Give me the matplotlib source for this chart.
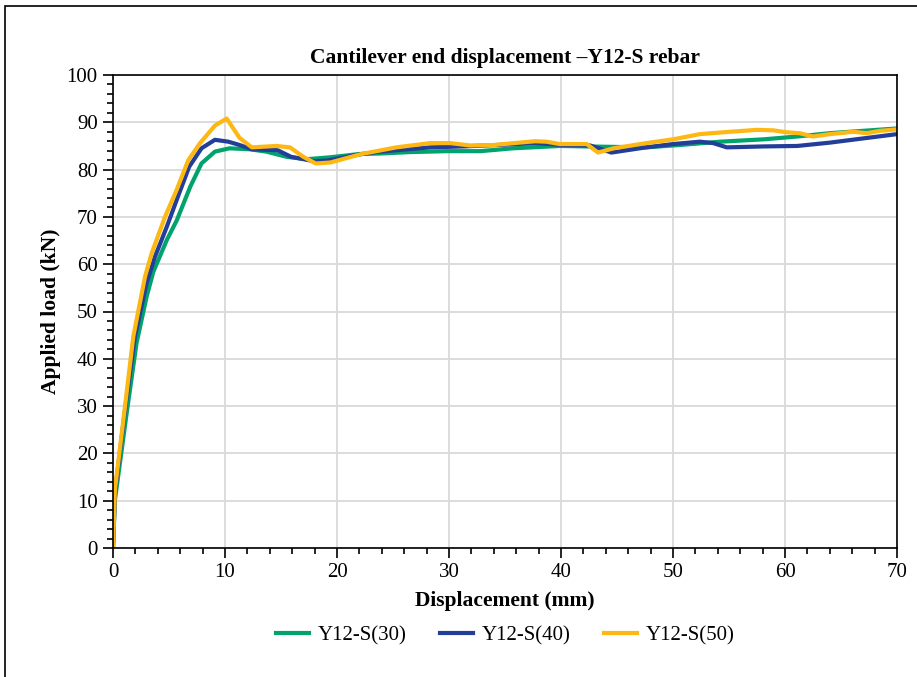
import matplotlib
matplotlib.use("Agg")
import matplotlib.pyplot as plt
from matplotlib.ticker import MultipleLocator
from matplotlib.patches import Rectangle

# Y12-S(30)
d30 = [0, 0.17, 1.22, 2.1, 3.0, 3.6, 4.8, 5.7, 6.9, 7.9, 9.1, 10.4, 12.2, 13.7, 15.5,
       17.3, 19.4, 22.0, 23.8, 26.5, 29.8, 32.8, 35.7, 39.9, 44.7, 47.6, 50.6, 54.2,
       58.1, 61.1, 64.0, 67.0, 70.0]
p30 = [0, 10.1, 28.5, 43.3, 53.1, 58.4, 65.1, 69.3, 76.4, 81.3, 83.8, 84.5, 84.3, 83.8, 82.7,
       82.2, 82.6, 83.3, 83.4, 83.7, 83.9, 83.9, 84.5, 85.0, 84.8, 84.7, 85.2, 85.9,
       86.4, 87.0, 87.7, 88.2, 88.7]

# Y12-S(40)
d40 = [0, 0.17, 1.07, 1.96, 3.0, 3.75, 4.8, 5.8, 6.8, 7.9, 9.1, 10.3, 11.3, 12.4, 14.7,
       15.9, 17.9, 19.1, 22.0, 23.8, 28.3, 31.3, 34.3, 37.8, 40.2, 42.6, 44.5, 47.6,
       50.0, 52.4, 53.6, 54.8, 58.1, 61.1, 64.0, 67.0, 70.0]
p40 = [0, 11.6, 29.2, 44.7, 56.0, 61.6, 67.9, 74.3, 80.6, 84.5, 86.3, 85.9, 85.2, 84.3, 84.1,
       82.7, 81.8, 81.9, 83.2, 83.8, 84.7, 84.9, 85.2, 85.6, 85.2, 85.1, 83.6, 84.7,
       85.4, 85.9, 85.6, 84.7, 84.9, 85.0, 85.7, 86.6, 87.5]

# Y12-S(50)
d50 = [0, 0.17, 1.07, 1.81, 2.86, 3.45, 4.64, 5.68, 6.72, 7.77, 9.1, 10.15, 11.3, 12.4,
       14.6, 15.8, 17.0, 18.1, 19.4, 22.2, 25.3, 28.3, 30.1, 31.9, 34.0, 35.8, 37.7, 38.7,
       39.9, 42.3, 43.3, 44.7, 47.6, 50.0, 52.4, 55.1, 57.5, 58.95, 60.1, 61.3, 62.5,
       64.0, 66.1, 67.3, 68.5, 70.0]
p50 = [0, 12.3, 29.9, 44.7, 57.4, 62.3, 70.0, 75.7, 82.0, 85.6, 89.3, 90.8, 86.7, 84.7,
       85.0, 84.7, 82.7, 81.3, 81.5, 83.3, 84.7, 85.6, 85.6, 85.1, 85.2, 85.6, 86.0, 85.9,
       85.4, 85.4, 83.6, 84.5, 85.6, 86.4, 87.5, 88.0, 88.4, 88.3, 87.9, 87.7, 87.0,
       87.5, 88.0, 87.7, 88.2, 88.5]

labels = ['Y12-S(30)', 'Y12-S(40)', 'Y12-S(50)']
colors = ['#00A36C', '#233E99', '#FDB813']

plt.rcParams['font.family'] = ['Liberation Serif', 'DejaVu Serif']

fig = plt.figure(figsize=(9.17, 6.77), dpi=100)
ax = fig.add_axes([113 / 917, 1 - 548 / 677, (897 - 113) / 917, (548 - 75) / 677])

ax.plot(d30, p30, color=colors[0], lw=3, label=labels[0], solid_joinstyle='round')
ax.plot(d40, p40, color=colors[1], lw=3, label=labels[1], solid_joinstyle='round')
ax.plot(d50, p50, color=colors[2], lw=3, label=labels[2], solid_joinstyle='round')

ax.set_xlim(0, 70)
ax.set_ylim(0, 100)
ax.xaxis.set_major_locator(MultipleLocator(10))
ax.xaxis.set_minor_locator(MultipleLocator(2))
ax.yaxis.set_major_locator(MultipleLocator(10))
ax.yaxis.set_minor_locator(MultipleLocator(2))
ax.tick_params(which='major', direction='out', length=7, width=1.2, labelsize=15, colors='black')
ax.tick_params(which='minor', direction='out', length=4, width=1.2)
ax.tick_params(axis='x', which='major', pad=4)
ax.tick_params(axis='y', which='major', pad=4)
ax.grid(which='major', color='#d9d9d9', lw=1.3)
ax.set_axisbelow(True)
for s in ax.spines.values():
    s.set_linewidth(1.2)

ax.set_title('Cantilever end displacement \u2013Y12-S rebar', fontsize=15.5, fontweight='bold', pad=9)
ax.set_xlabel('Displacement (mm)', fontsize=15.5, fontweight='bold', labelpad=6)
ax.set_ylabel('Applied load (kN)', fontsize=15.5, fontweight='bold', labelpad=4)

ax.legend(loc='upper center', bbox_to_anchor=(0.5, -0.125), ncol=3, frameon=False,
          fontsize=15, handlelength=1.6, columnspacing=1.6, handletextpad=0.4)

# outer border
fig.patches.append(Rectangle((5 / 917, -0.1), 1.2, 1 - 6 / 677 + 0.1, transform=fig.transFigure,
                             fill=False, ec='black', lw=1.2))

fig.savefig('out.png', dpi=100)
